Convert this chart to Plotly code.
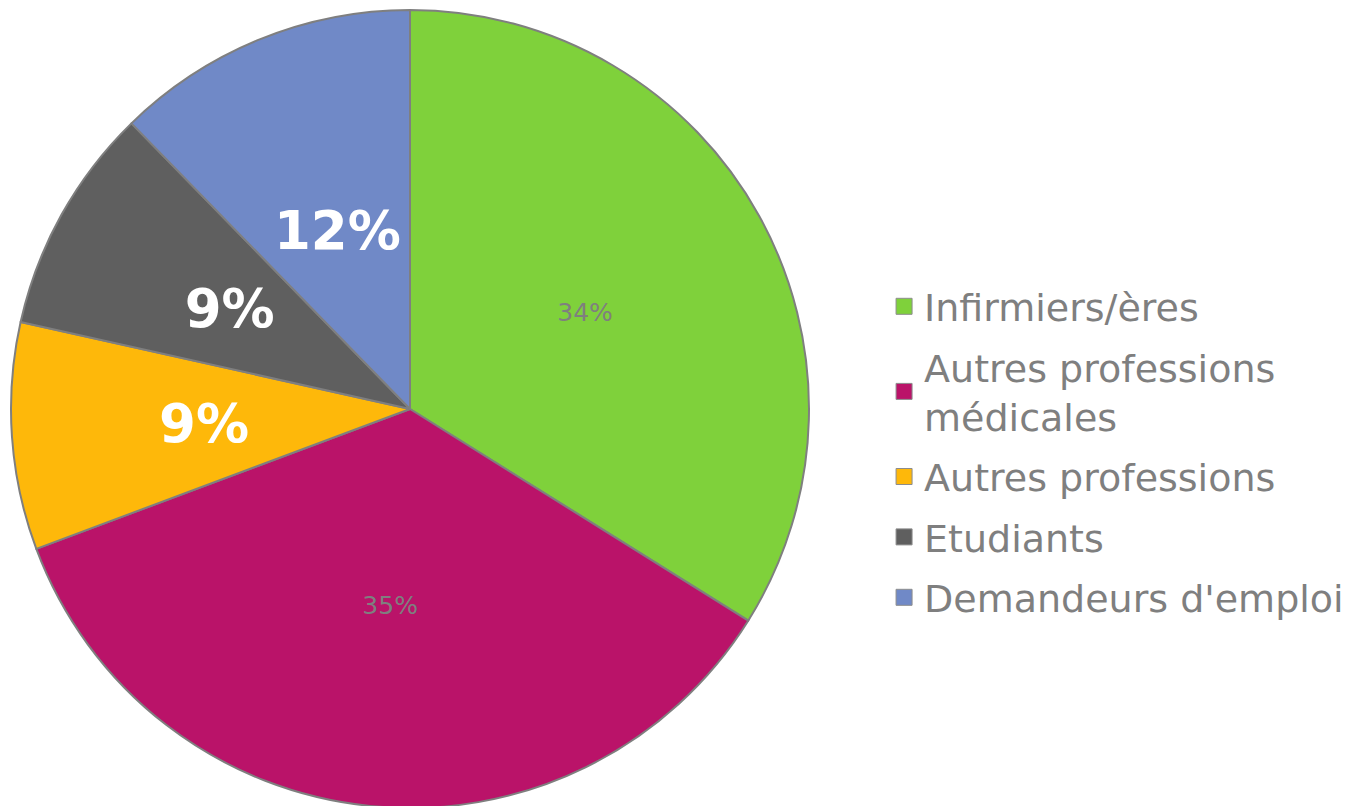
import plotly.graph_objects as go

labels = ["Infirmiers/ères", "Autres professions<br>médicales", "Autres professions", "Etudiants", "Demandeurs d'emploi"]
values = [33.9, 35.4, 9.2, 9.2, 12.3]
colors = ["#7fd13b", "#ba1369", "#feb80a", "#5f5f5f", "#7089c7"]
text_sizes = [25, 25, 53, 53, 53]
text_colors = ["#7f7f7f", "#7f7f7f", "#ffffff", "#ffffff", "#ffffff"]
text_weights = ["normal", "normal", "bold", "bold", "bold"]

W, H = 1353, 806
# pie geometry in figure pixels (page has an 8px body offset)
CX, CY, R = 402, 401, 399


def dom(scale):
    r = R * scale
    return dict(x=[(CX - r) / W, (CX + r) / W], y=[1 - (CY + r) / H, 1 - (CY - r) / H])


fig = go.Figure()
fig.add_trace(go.Pie(
    labels=labels, values=values, sort=False, direction="clockwise", rotation=0,
    marker=dict(colors=colors, line=dict(color="#7f7f7f", width=2)),
    textinfo="none", domain=dom(1.0), hoverinfo="label+percent",
    showlegend=False,
))
# label-only overlays so the percentages sit near mid-radius
for scale, show in [(0.94, [True, True, False, False, False]),
                    (0.665, [False, False, True, True, True])]:
    fig.add_trace(go.Pie(
        labels=labels, values=values, sort=False, direction="clockwise", rotation=0,
        marker=dict(colors=["rgba(0,0,0,0)"] * len(values), line=dict(width=0)),
        texttemplate=["%{percent:.0%}" if s else "" for s in show],
        textposition="inside", insidetextorientation="horizontal",
        textfont=dict(family="DejaVu Sans", size=text_sizes, color=text_colors,
                      weight=text_weights),
        domain=dom(scale), showlegend=False, hoverinfo="skip",
    ))

# legend entries for the pie categories (spaced like the original legend)
for i, (lab, col) in enumerate(zip(labels, colors)):
    fig.add_trace(go.Scatter(
        x=[None], y=[None], mode="markers", name=lab,
        marker=dict(symbol="square", size=22, color=col, line=dict(color="#8c8c8c", width=1)),
        legendgroup=f"g{i}", showlegend=True, hoverinfo="skip",
    ))

fig.update_layout(
    width=W, height=H,
    margin=dict(l=0, r=0, t=0, b=0),
    paper_bgcolor="white",
    plot_bgcolor="rgba(0,0,0,0)",
    xaxis=dict(visible=False),
    yaxis=dict(visible=False),
    showlegend=True,
    legend=dict(
        x=0.6475, y=0.449, xanchor="left", yanchor="middle",
        font=dict(family="DejaVu Sans", size=38, color="#7f7f7f"),
        bgcolor="rgba(0,0,0,0)",
        tracegroupgap=8,
        itemsizing="trace",
    ),
)
fig.write_html("out.html")
